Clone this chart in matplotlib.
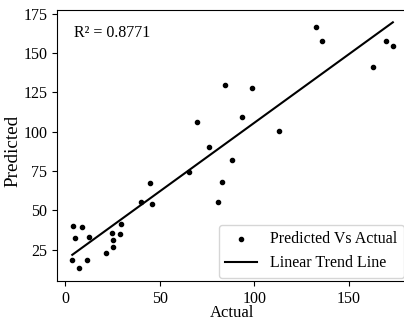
import numpy as np
import matplotlib
matplotlib.use('Agg')
import matplotlib.pyplot as plt

plt.rcParams['font.family'] = ['Liberation Serif', 'DejaVu Serif']

# Actual vs predicted values
actual = [4.2, 4.9, 8.9, 12.7, 3.6, 7.0, 11.6, 21.7, 24.7, 25.1, 25.1, 29.0, 29.5,
          39.8, 45.8, 44.8, 65.2, 69.6, 75.8, 88.0, 82.7, 80.6, 84.3, 99.0, 93.7,
          113.0, 132.7, 135.9, 170.0, 173.5, 163.2]
predicted = [40.1, 32.1, 39.5, 33.3, 18.3, 13.0, 18.3, 23.0, 35.7, 31.0, 26.8, 34.6, 41.6,
             55.0, 54.3, 67.5, 74.5, 106.3, 90.6, 81.8, 67.9, 55.2, 130.0, 128.1, 109.7,
             100.6, 166.9, 157.6, 157.6, 154.6, 141.3]
r2_text = 'R² = 0.8771'

x = np.array(actual)
y = np.array(predicted)
slope, intercept = np.polyfit(x, y, 1)
xs = np.array([x.min(), x.max()])

fig = plt.figure(figsize=(4.04, 3.21), dpi=100)
ax = fig.add_axes([57 / 404, 40 / 321, 350 / 404, 271 / 321])

ax.scatter(x, y, s=9, color='black', label='Predicted Vs Actual')
ax.plot(xs, slope * xs + intercept, color='black', lw=1.5, label='Linear Trend Line')

ax.set_xlim(-4.5, 181)
ax.set_ylim(5, 177.5)
ax.set_xticks([0, 50, 100, 150])
ax.set_yticks([25, 50, 75, 100, 125, 150, 175])
ax.tick_params(labelsize=11.5)
ax.set_xlabel('Actual', fontsize=12, va='center')
ax.set_ylabel('Predicted', fontsize=13.8, va='center')
ax.xaxis.set_label_coords(0.5, -0.118)
ax.yaxis.set_label_coords(-0.126, 0.48)

ax.text(0.05, 0.915, r2_text, transform=ax.transAxes, fontsize=11.5, va='center')
ax.legend(loc='lower right', fontsize=11.5, handletextpad=0.8, borderaxespad=0.2)

fig.savefig('out.png', dpi=100)
